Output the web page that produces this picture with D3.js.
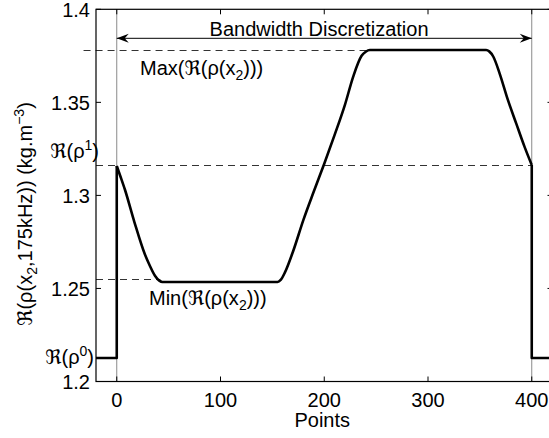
<!DOCTYPE html>
<html lang="en">
<head>
    <meta charset="UTF-8">
    <title>Bandwidth Discretization</title>
    <script src="https://cdn.jsdelivr.net/npm/d3@7/dist/d3.min.js"></script>
    <style>
        body {
            margin: 0;
            background: #fff;
        }

        svg {
            display: block;
        }

        text {
            font-family: "Liberation Sans", Arial, "DejaVu Sans", sans-serif;
            font-size: 20px;
            fill: #000;
        }
    </style>
</head>
<body>
<svg width="549" height="438"></svg>

<script>
    // profile (inside the band, 0..400)
    var points = [0, 4, 8, 17, 27, 32, 37, 41, 44, 155, 158, 162, 170, 180, 190, 200, 210, 220, 228, 236, 240, 244,
        356, 359, 363, 369, 377, 385, 393, 400];
    var rho = [1.3158, 1.3095, 1.3029, 1.2857, 1.2685, 1.2621, 1.2567, 1.2542, 1.2535, 1.2535, 1.2546, 1.2585,
        1.2700, 1.2870, 1.3022, 1.3170, 1.3325, 1.3488, 1.3640, 1.3750, 1.3772, 1.3781,
        1.3781, 1.3774, 1.3745, 1.3656, 1.3513, 1.3387, 1.3262, 1.3163];

    // value outside the band, on both sides
    var outPoints = [-20, 0];
    var outPointsRight = [400, 420];

    var xTicks = [0, 100, 200, 300, 400];
    var yTicks = [1.2, 1.25, 1.3, 1.35, 1.4];
    var yTickLabels = ['1.2', '1.25', '1.3', '1.35', '1.4'];

    var rhoMax = 1.3781;
    var rhoMin = 1.2549;
    var rho1 = 1.3163;
    var rho0 = 1.2126;

    var svg = d3.select('svg');

    var x = d3.scaleLinear().domain([-20, 420]).range([96, 552.5]);
    var y = d3.scaleLinear().domain([1.2, 1.4]).range([381.5, 9.3]);

    var data = points.map(function (p, i) {
        return {x: p, y: rho[i]};
    });

    // gray reference lines at both ends of the band
    svg.selectAll('.vline')
        .data([0, 400])
        .enter().append('line')
        .attr('x1', function (d) { return x(d); })
        .attr('x2', function (d) { return x(d); })
        .attr('y1', y(1.4))
        .attr('y2', y(1.2))
        .attr('stroke', '#8a8a8a')
        .attr('stroke-width', 1);

    // dashed levels
    var dashes = [
        {from: -32, to: 244, v: rhoMax},
        {from: -20, to: 400, v: rho1},
        {from: -20, to: 42, v: rhoMin}
    ];
    svg.selectAll('.dash')
        .data(dashes)
        .enter().append('line')
        .attr('x1', function (d) { return x(d.from); })
        .attr('x2', function (d) { return x(d.to); })
        .attr('y1', function (d) { return Math.round(y(d.v)) + 0.5; })
        .attr('y2', function (d) { return Math.round(y(d.v)) + 0.5; })
        .attr('stroke', '#333')
        .attr('stroke-width', 1)
        .attr('stroke-dasharray', '7,5');

    // axes box
    var box = svg.append('g');
    box.append('rect')
        .attr('x', x(-20))
        .attr('y', y(1.4))
        .attr('width', x(420) - x(-20))
        .attr('height', y(1.2) - y(1.4))
        .attr('fill', 'none')
        .attr('stroke', '#000')
        .attr('stroke-width', 1.2);

    var tl = 5;
    xTicks.forEach(function (t) {
        box.append('line').attr('x1', x(t)).attr('x2', x(t))
            .attr('y1', y(1.2)).attr('y2', y(1.2) - tl).attr('stroke', '#000');
        box.append('line').attr('x1', x(t)).attr('x2', x(t))
            .attr('y1', y(1.4)).attr('y2', y(1.4) + tl).attr('stroke', '#000');
        box.append('text')
            .attr('x', x(t))
            .attr('y', y(1.2) + 25.5)
            .attr('text-anchor', 'middle')
            .text(t);
    });
    yTicks.forEach(function (t, i) {
        box.append('line').attr('x1', x(-20)).attr('x2', x(-20) + tl)
            .attr('y1', y(t)).attr('y2', y(t)).attr('stroke', '#000');
        box.append('line').attr('x1', x(420)).attr('x2', x(420) - tl)
            .attr('y1', y(t)).attr('y2', y(t)).attr('stroke', '#000');
        box.append('text')
            .attr('x', x(-20) - 6)
            .attr('y', y(t))
            .attr('dy', '0.36em')
            .attr('text-anchor', 'end')
            .text(yTickLabels[i]);
    });

    // profile curve: step in, smooth band, step out
    var stepLine = d3.line()
        .x(function (d) { return x(d.x); })
        .y(function (d) { return y(d.y); });

    var curve = svg.append('g')
        .attr('fill', 'none')
        .attr('stroke', '#000')
        .attr('stroke-width', 2.6)
        .attr('stroke-linejoin', 'round');

    curve.append('path')
        .datum([{x: outPoints[0], y: rho0}, {x: outPoints[1], y: rho0}, data[0]])
        .attr('d', stepLine);
    curve.append('path')
        .datum(data)
        .attr('d', d3.line().curve(d3.curveMonotoneX)
            .x(function (d) { return x(d.x); })
            .y(function (d) { return y(d.y); }));
    curve.append('path')
        .datum([data[data.length - 1], {x: outPointsRight[0], y: rho0}, {x: outPointsRight[1], y: rho0}])
        .attr('d', stepLine);

    // double arrow
    var ay = 38.3;
    svg.append('line')
        .attr('x1', x(0)).attr('x2', x(400))
        .attr('y1', ay).attr('y2', ay)
        .attr('stroke', '#000').attr('stroke-width', 1);
    [[x(0), 1], [x(400), -1]].forEach(function (a) {
        var tip = a[0], s = a[1];
        svg.append('path')
            .attr('d', 'M' + tip + ',' + ay +
                'L' + (tip + s * 12) + ',' + (ay - 4.5) +
                'L' + (tip + s * 8) + ',' + ay +
                'L' + (tip + s * 12) + ',' + (ay + 4.5) + 'Z')
            .attr('fill', '#000');
    });

    svg.append('text')
        .attr('x', x(195))
        .attr('y', 36)
        .attr('text-anchor', 'middle')
        .text('Bandwidth Discretization');

    function subLabel(xp, yp, anchor) {
        return svg.append('text')
            .attr('x', xp)
            .attr('y', yp)
            .attr('text-anchor', anchor || 'start');
    }

    var tMax = subLabel(140, 75);
    tMax.append('tspan').text('Max(ℜ(ρ(x');
    tMax.append('tspan').attr('dy', 5).style('font-size', '14px').text('2');
    tMax.append('tspan').attr('dy', -5).text(')))');

    var tMin = subLabel(149, 305);
    tMin.append('tspan').text('Min(ℜ(ρ(x');
    tMin.append('tspan').attr('dy', 5).style('font-size', '14px').text('2');
    tMin.append('tspan').attr('dy', -5).text(')))');

    var t1 = subLabel(99, 158, 'end');
    t1.append('tspan').text('ℜ(ρ');
    t1.append('tspan').attr('dy', -8).style('font-size', '14px').text('1');
    t1.append('tspan').attr('dy', 8).text(')');

    var t0 = subLabel(94, 364, 'end');
    t0.append('tspan').text('ℜ(ρ');
    t0.append('tspan').attr('dy', -8).style('font-size', '14px').text('0');
    t0.append('tspan').attr('dy', 8).text(')');

    // axis titles
    svg.append('text')
        .attr('x', (x(-20) + x(420)) / 2 - 2)
        .attr('y', 427)
        .attr('text-anchor', 'middle')
        .text('Points');

    var yl = svg.append('text')
        .attr('transform', 'translate(32,214) rotate(-90)')
        .attr('text-anchor', 'middle');
    yl.append('tspan').text('ℜ(ρ(x');
    yl.append('tspan').attr('dy', 5).style('font-size', '14px').text('2');
    yl.append('tspan').attr('dy', -5).text(',175kHz)) (kg.m');
    yl.append('tspan').attr('dy', -8).style('font-size', '14px').text('−3');
    yl.append('tspan').attr('dy', 8).text(')');
</script>

</body>
</html>
